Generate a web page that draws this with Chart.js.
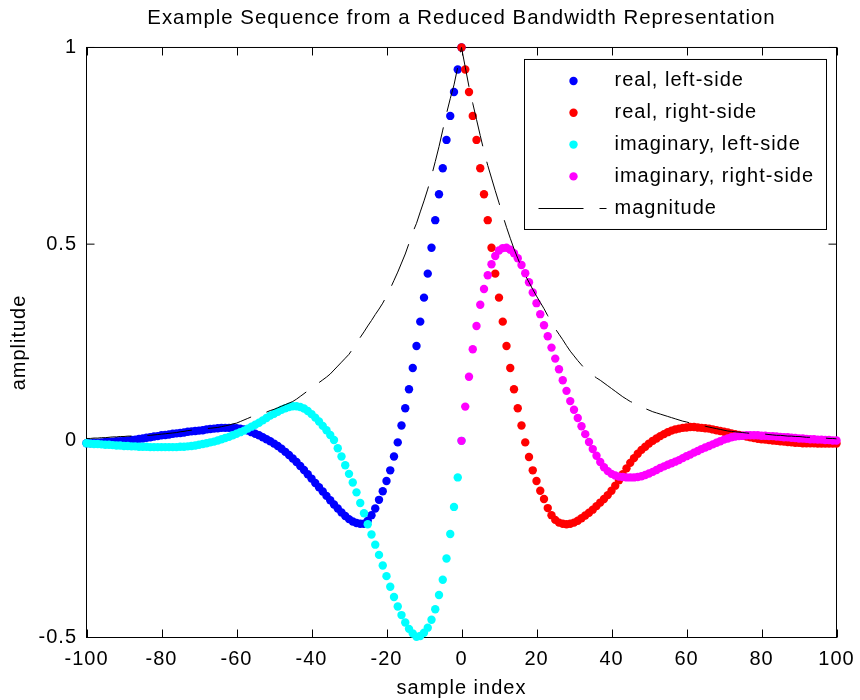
<!DOCTYPE html>
<html>
<head>
<meta charset="utf-8">
<script src="https://cdn.jsdelivr.net/npm/chart.js@4.4.1/dist/chart.umd.min.js"></script>
<style>
  html, body { margin: 0; padding: 0; background: #fff; }
</style>
</head>
<body>
<canvas id="seqChart" width="860" height="700"></canvas>
<script>
// sample indices
var leftIndex = [];
for (var n = -100; n <= 0; n++) leftIndex.push(n);
var rightIndex = [];
for (var m = 0; m <= 100; m++) rightIndex.push(m);
var allIndex = leftIndex.concat(rightIndex.slice(1));

// real part, n = -100 .. 0
var realLeft = [
  -0.006, -0.006, -0.005, -0.005, -0.004, -0.003, -0.003, -0.002, -0.001, -0.001,
   0.000,  0.001,  0.002,  0.003,  0.005,  0.006,  0.008,  0.009,  0.011,  0.012,
   0.014,  0.015,  0.016,  0.018,  0.019,  0.020,  0.021,  0.023,  0.024,  0.025,
   0.026,  0.027,  0.029,  0.030,  0.031,  0.032,  0.033,  0.033,  0.033,  0.033,
   0.032,  0.031,  0.029,  0.026,  0.022,  0.018,  0.014,  0.009,  0.004, -0.001,
  -0.007, -0.013, -0.020, -0.028, -0.036, -0.045, -0.054, -0.064, -0.074, -0.085,
  -0.096, -0.107, -0.118, -0.129, -0.140, -0.151, -0.162, -0.172, -0.182, -0.191,
  -0.199, -0.205, -0.209, -0.211, -0.211, -0.203, -0.189, -0.172, -0.150, -0.128,
  -0.102, -0.075, -0.040, -0.004,  0.039,  0.083,  0.131,  0.185,  0.241,  0.303,
   0.364,  0.425,  0.491,  0.561,  0.627,  0.693,  0.765,  0.826,  0.887,  0.944,
   1.000
];

// real part, n = 0 .. 100
var realRight = [
   1.000,  0.944,  0.887,  0.826,  0.765,  0.693,  0.627,  0.561,  0.491,  0.425,
   0.364,  0.303,  0.241,  0.185,  0.131,  0.083,  0.039, -0.004, -0.041, -0.075,
  -0.102, -0.127, -0.148, -0.171, -0.189, -0.201, -0.208, -0.211, -0.212, -0.211,
  -0.208, -0.203, -0.197, -0.190, -0.183, -0.175, -0.166, -0.157, -0.148, -0.138,
  -0.127, -0.114, -0.100, -0.085, -0.070, -0.056, -0.044, -0.033, -0.023, -0.015,
  -0.007,  0.000,  0.006,  0.012,  0.017,  0.022,  0.026,  0.029,  0.031,  0.033,
   0.034,  0.035,  0.035,  0.034,  0.033,  0.032,  0.031,  0.029,  0.027,  0.025,
   0.023,  0.021,  0.019,  0.017,  0.015,  0.013,  0.011,  0.009,  0.007,  0.005,
   0.004,  0.003,  0.002,  0.001,  0.000, -0.001, -0.002, -0.003, -0.004, -0.005,
  -0.005, -0.006, -0.006, -0.006, -0.006, -0.007, -0.007, -0.007, -0.007, -0.007,
  -0.007
];

// imaginary part, n = -100 .. 0
var imagLeft = [
  -0.006, -0.007, -0.008, -0.008, -0.009, -0.010, -0.010, -0.011, -0.012, -0.012,
  -0.013, -0.013, -0.014, -0.014, -0.015, -0.015, -0.015, -0.016, -0.016, -0.016,
  -0.016, -0.016, -0.016, -0.016, -0.016, -0.015, -0.015, -0.014, -0.013, -0.012,
  -0.010, -0.008, -0.006, -0.004, -0.002,  0.001,  0.004,  0.007,  0.010,  0.014,
   0.018,  0.022,  0.026,  0.031,  0.036,  0.041,  0.046,  0.052,  0.058,  0.064,
   0.069,  0.074,  0.079,  0.083,  0.086,  0.088,  0.088,  0.086,  0.082,  0.076,
   0.068,  0.059,  0.049,  0.038,  0.027,  0.015,  0.002, -0.019, -0.040, -0.062,
  -0.084, -0.106, -0.131, -0.158, -0.184, -0.212, -0.238, -0.264, -0.290, -0.317,
  -0.344, -0.371, -0.397, -0.421, -0.443, -0.462, -0.478, -0.490, -0.498, -0.496,
  -0.488, -0.475, -0.455, -0.428, -0.392, -0.353, -0.299, -0.237, -0.168, -0.093,
   0.000
];

// imaginary part, n = 0 .. 100
var imagRight = [
   0.000,  0.087,  0.163,  0.233,  0.292,  0.346,  0.386,  0.421,  0.449,  0.470,
   0.484,  0.490,  0.491,  0.486,  0.477,  0.464,  0.447,  0.426,  0.403,  0.377,
   0.350,  0.322,  0.294,  0.266,  0.237,  0.209,  0.182,  0.154,  0.127,  0.101,
   0.079,  0.058,  0.037,  0.017, -0.003, -0.021, -0.038, -0.054, -0.067, -0.077,
  -0.084, -0.088, -0.091, -0.092, -0.093, -0.093, -0.093, -0.092, -0.090, -0.087,
  -0.083, -0.079, -0.074, -0.069, -0.065, -0.061, -0.057, -0.053, -0.049, -0.044,
  -0.039, -0.035, -0.030, -0.026, -0.021, -0.017, -0.013, -0.009, -0.005, -0.001,
   0.003,  0.006,  0.009,  0.011,  0.012,  0.013,  0.014,  0.014,  0.014,  0.014,
   0.013,  0.013,  0.012,  0.012,  0.011,  0.010,  0.009,  0.009,  0.008,  0.007,
   0.006,  0.006,  0.005,  0.004,  0.004,  0.003,  0.003,  0.002,  0.002,  0.001,
   0.001
];

// magnitude, n = -100 .. 100
var magnitude = [
  0.006, 0.006, 0.007, 0.007, 0.008, 0.008, 0.009, 0.010, 0.010, 0.011,
  0.011, 0.012, 0.012, 0.013, 0.013, 0.014, 0.014, 0.014, 0.015, 0.016,
  0.017, 0.018, 0.019, 0.020, 0.021, 0.023, 0.024, 0.026, 0.027, 0.028,
  0.029, 0.030, 0.031, 0.032, 0.033, 0.034, 0.036, 0.038, 0.040, 0.043,
  0.045, 0.049, 0.053, 0.057, 0.061, 0.064, 0.067, 0.070, 0.073, 0.077,
  0.080, 0.084, 0.088, 0.092, 0.096, 0.100, 0.106, 0.113, 0.120, 0.127,
  0.134, 0.141, 0.148, 0.155, 0.162, 0.170, 0.180, 0.190, 0.200, 0.210,
  0.220, 0.234, 0.248, 0.263, 0.277, 0.292, 0.306, 0.321, 0.335, 0.350,
  0.368, 0.387, 0.408, 0.429, 0.452, 0.475, 0.502, 0.530, 0.553, 0.582,
  0.610, 0.640, 0.673, 0.710, 0.748, 0.790, 0.832, 0.870, 0.905, 0.950,
  1.000,
  0.950, 0.900, 0.858, 0.817, 0.776, 0.736, 0.700, 0.668, 0.636, 0.605,
  0.573, 0.543, 0.515, 0.488, 0.464, 0.441, 0.421, 0.403, 0.385, 0.368,
  0.352, 0.336, 0.318, 0.301, 0.285, 0.271, 0.257, 0.242, 0.228, 0.216,
  0.204, 0.193, 0.182, 0.174, 0.167, 0.160, 0.154, 0.147, 0.140, 0.133,
  0.126, 0.119, 0.112, 0.106, 0.100, 0.096, 0.092, 0.087, 0.082, 0.078,
  0.074, 0.071, 0.068, 0.065, 0.062, 0.059, 0.056, 0.053, 0.050, 0.048,
  0.045, 0.043, 0.041, 0.039, 0.037, 0.035, 0.033, 0.031, 0.029, 0.027,
  0.025, 0.024, 0.023, 0.022, 0.021, 0.020, 0.019, 0.019, 0.018, 0.017,
  0.017, 0.016, 0.015, 0.014, 0.014, 0.013, 0.012, 0.012, 0.011, 0.011,
  0.010, 0.009, 0.009, 0.008, 0.008, 0.007, 0.007, 0.006, 0.006, 0.005
];

var seriesNames = ['real, left-side', 'real, right-side', 'imaginary, left-side', 'imaginary, right-side', 'magnitude'];
var seriesColors = ['#0000ff', '#ff0000', '#00ffff', '#ff00ff', '#000000'];
var xTicks = [-100, -80, -60, -40, -20, 0, 20, 40, 60, 80, 100];
var yTicks = [-0.5, 0, 0.5, 1];

var FONT_FAMILY = "'Liberation Sans', Arial, Helvetica, sans-serif";
var FONT_SIZE = 20;

function toPoints(xs, ys) {
    return xs.map(function(x, i) { return { x: x, y: ys[i] }; });
}

// ── Box around the axes with inward tick marks (MATLAB look) ──
var axesBoxPlugin = {
    id: 'axesBox',
    beforeDraw: function(chart) {
        chart.ctx.letterSpacing = '1px';
    },
    beforeDatasetsDraw: function(chart) {
        var ctx = chart.ctx;
        var a = chart.chartArea;
        var xs = chart.scales.x, ys = chart.scales.y;
        var len = 8;
        ctx.save();
        ctx.strokeStyle = '#000';
        ctx.lineWidth = 1;
        ctx.strokeRect(a.left, a.top, a.right - a.left, a.bottom - a.top);
        ctx.beginPath();
        xTicks.forEach(function(v) {
            var px = Math.round(xs.getPixelForValue(v)) + 0.5;
            ctx.moveTo(px, a.bottom); ctx.lineTo(px, a.bottom - len);
            ctx.moveTo(px, a.top); ctx.lineTo(px, a.top + len);
        });
        yTicks.forEach(function(v) {
            var py = ys.getPixelForValue(v);
            ctx.moveTo(a.left, py); ctx.lineTo(a.left + len, py);
            ctx.moveTo(a.right, py); ctx.lineTo(a.right - len, py);
        });
        ctx.stroke();
        ctx.restore();
    }
};

// ── Legend drawn inside the plot, top right ──
var boxLegendPlugin = {
    id: 'boxLegend',
    afterDraw: function(chart) {
        var ctx = chart.ctx;
        var a = chart.chartArea;
        var w = 302, h = 170;
        var bx = a.right - 10 - w, by = a.top + 12;
        ctx.save();
        ctx.fillStyle = '#fff';
        ctx.fillRect(bx, by, w, h);
        ctx.strokeStyle = '#000';
        ctx.lineWidth = 1;
        ctx.strokeRect(bx, by, w, h);
        ctx.font = FONT_SIZE + 'px ' + FONT_FAMILY;
        ctx.textBaseline = 'middle';
        ctx.textAlign = 'left';
        chart.data.datasets.forEach(function(ds, i) {
            var cy = by + 21.5 + i * 31.8;
            if (ds.showLine) {
                ctx.strokeStyle = ds.borderColor;
                ctx.lineWidth = ds.borderWidth;
                ctx.setLineDash(ds.borderDash);
                ctx.beginPath();
                ctx.moveTo(bx + 14, Math.round(cy) + 0.5);
                ctx.lineTo(bx + 82, Math.round(cy) + 0.5);
                ctx.stroke();
                ctx.setLineDash([]);
            } else {
                ctx.fillStyle = ds.backgroundColor;
                ctx.beginPath();
                ctx.arc(bx + 49, cy, ds.pointRadius, 0, Math.PI * 2);
                ctx.fill();
            }
            ctx.fillStyle = '#000';
            ctx.fillText(ds.label, bx + 90, cy);
        });
        ctx.restore();
    }
};

function dotSet(i, xs, ys, order) {
    return {
        label: seriesNames[i],
        data: toPoints(xs, ys),
        backgroundColor: seriesColors[i],
        borderWidth: 0,
        pointRadius: 4.2,
        pointHoverRadius: 4.2,
        showLine: false,
        clip: false,
        order: order
    };
}

new Chart(document.getElementById('seqChart').getContext('2d'), {
    type: 'scatter',
    data: {
        datasets: [
            dotSet(0, leftIndex, realLeft, 5),
            dotSet(1, rightIndex, realRight, 4),
            dotSet(2, leftIndex, imagLeft, 3),
            dotSet(3, rightIndex, imagRight, 2),
            {
                label: seriesNames[4],
                data: toPoints(allIndex, magnitude),
                borderColor: seriesColors[4],
                borderWidth: 1,
                borderDash: [45, 16],
                pointRadius: 0,
                showLine: true,
                tension: 0,
                clip: false,
                order: 1
            }
        ]
    },
    options: {
        responsive: false,
        animation: false,
        devicePixelRatio: 1,
        layout: { padding: { left: 0, right: 23.5, top: 0, bottom: 0 } },
        plugins: {
            legend: { display: false },
            tooltip: { enabled: false },
            title: {
                display: true,
                fullSize: false,
                text: 'Example Sequence from a Reduced Bandwidth Representation',
                color: '#000',
                font: { family: FONT_FAMILY, size: 20.4, weight: 'normal', lineHeight: 1.2 },
                padding: { top: 6, bottom: 17 }
            }
        },
        scales: {
            x: {
                type: 'linear',
                min: -100,
                max: 100,
                afterBuildTicks: function(scale) {
                    scale.ticks = xTicks.map(function(v) { return { value: v }; });
                },
                afterFit: function(scale) {
                    scale.height = 62.5;
                    scale.paddingLeft = 0;
                    scale.paddingRight = 0;
                },
                grid: { display: false, drawTicks: false },
                border: { display: false },
                ticks: {
                    color: '#000',
                    padding: 10,
                    maxRotation: 0,
                    autoSkip: false,
                    font: { family: FONT_FAMILY, size: FONT_SIZE },
                    callback: function(v) { return String(v); }
                },
                title: {
                    display: true,
                    text: 'sample index',
                    color: '#000',
                    font: { family: FONT_FAMILY, size: FONT_SIZE, lineHeight: 1.2 },
                    padding: { top: 0, bottom: 0 }
                }
            },
            y: {
                type: 'linear',
                min: -0.5,
                max: 1,
                afterBuildTicks: function(scale) {
                    scale.ticks = yTicks.map(function(v) { return { value: v }; });
                },
                afterFit: function(scale) {
                    scale.width = 86.5;
                    scale.paddingTop = 0;
                    scale.paddingBottom = 0;
                },
                grid: { display: false, drawTicks: false },
                border: { display: false },
                ticks: {
                    color: '#000',
                    padding: 9.5,
                    autoSkip: false,
                    font: { family: FONT_FAMILY, size: FONT_SIZE },
                    callback: function(v) { return String(v); }
                },
                title: {
                    display: true,
                    text: 'amplitude',
                    color: '#000',
                    font: { family: FONT_FAMILY, size: FONT_SIZE, lineHeight: 1.2 },
                    padding: { top: 7, bottom: 0 }
                }
            }
        }
    },
    plugins: [axesBoxPlugin, boxLegendPlugin]
});
</script>
</body>
</html>
